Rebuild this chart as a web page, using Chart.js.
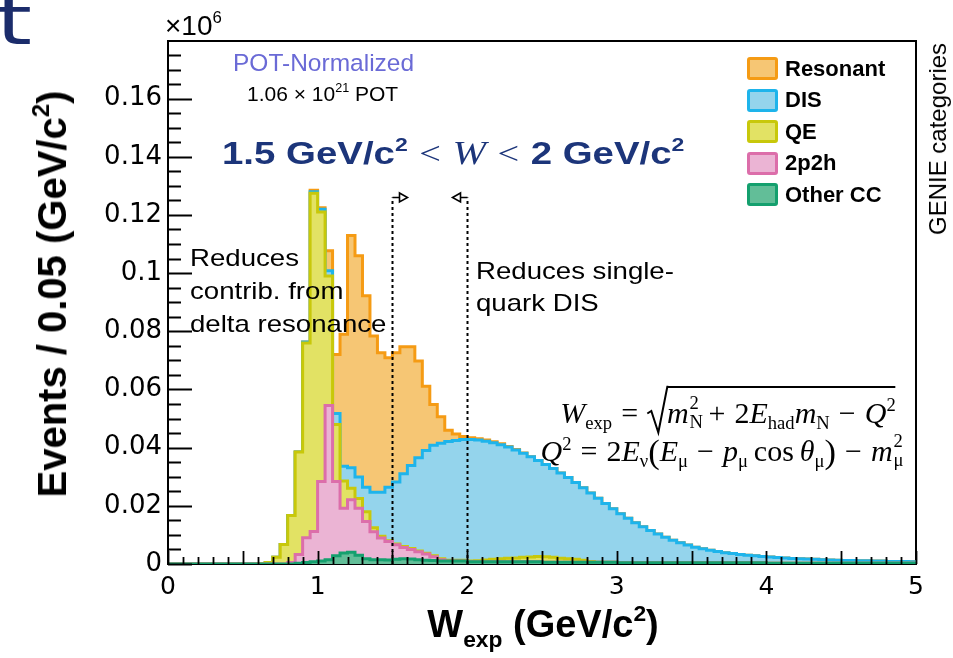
<!DOCTYPE html>
<html>
<head>
<meta charset="utf-8">
<script src="https://cdn.jsdelivr.net/npm/chart.js@4.4.1/dist/chart.umd.min.js"></script>
<style>
  html, body { margin: 0; padding: 0; background: #fff; }
  #wrap { position: relative; width: 953px; height: 658px; overflow: hidden; font-family: 'Liberation Sans', Arial, sans-serif; }
  #wrap canvas { position: absolute; left: 0; top: 0; }
  .lbl { position: absolute; white-space: nowrap; line-height: 1; color: #000; }
  .lbl sup { font-size: 0.6em; vertical-align: 0.7em; line-height: 0; }
  .math { font-family: 'Liberation Serif', 'DejaVu Serif', serif; font-size: 30px; }
  .math i { font-style: italic; }
  .math .s { font-size: 0.62em; vertical-align: -0.32em; line-height: 0; }
  .math .p { font-size: 0.62em; vertical-align: 0.62em; line-height: 0; }
  .math .op { margin: 0 0.3em; }
  .math .ss { display: inline-block; position: relative; width: 0.36em; height: 0; }
  .math .ss .u, .math .ss .d { position: absolute; left: 0.04em; font-size: 0.62em; line-height: 1; }
  .math .ss .u { bottom: 0.55em; }
  .math .ss .d { top: -0.55em; }
  .math .big { font-size: 1.15em; vertical-align: -0.05em; }
  .rt { display: inline-block; position: relative; padding-left: 20px; }
  .rt svg { position: absolute; left: 0; top: 0; width: 21px; height: 100%; overflow: visible; }
  .rb { display: inline-block; border-top: 2px solid #000; padding-top: 8px; line-height: 1.1; }
  #legend { white-space: nowrap; }
  #legend .row { position: absolute; left: 0; height: 23px; display: flex; align-items: center; white-space: nowrap; }
  #legend .box { box-sizing: border-box; width: 31px; height: 23px; border: 3px solid; border-radius: 3px; margin-right: 7px; flex: none; }
  #legend .txt { font-weight: bold; font-size: 22px; white-space: nowrap; }
</style>
</head>
<body>
<div id="wrap">
  <canvas id="chart"></canvas>

  <div class="lbl" id="slideT" style="left:-4px; top:-13px; font-family:'DejaVu Sans',sans-serif; font-size:68px; color:#1b2c6b; transform:scaleX(1.35); transform-origin:left top;">t</div>
  <div class="lbl" style="left:165px; top:12px; font-size:28px;">&times;10<sup>6</sup></div>
  <div class="lbl" style="left:233px; top:51px; font-size:24.5px; color:#6a6ad6;">POT-Normalized</div>
  <div class="lbl" style="left:247px; top:83px; font-size:21px;">1.06 &times; 10<sup>21</sup> POT</div>
  <div class="lbl" id="head" style="left:222px; top:136px; font-size:32px; color:#1c357a; transform:scaleX(1.2); transform-origin:left top;">
    <b>1.5 GeV/c<sup>2</sup></b><span style="font-family:'Liberation Serif',serif; margin:0 0.3em;">&lt;</span><i style="font-family:'Liberation Serif',serif; font-size:1.05em;">W</i><span style="font-family:'Liberation Serif',serif; margin:0 0.3em;">&lt;</span><b>2 GeV/c<sup>2</sup></b>
  </div>

  <div class="lbl" style="left:190px; top:241px; font-size:24px; line-height:33px; transform:scaleX(1.15); transform-origin:left top;">Reduces<br>contrib. from<br>delta resonance</div>
  <div class="lbl" style="left:476px; top:255px; font-size:24px; line-height:32px; transform:scaleX(1.15); transform-origin:left top;">Reduces single-<br>quark DIS</div>

  <div class="lbl math" id="f1" style="left:728px; top:386px; transform:translateX(-50%);"><i>W</i><span class="s">exp</span><span class="op">=</span><span class="rt"><svg viewBox="0 0 21 50" preserveAspectRatio="none"><polyline points="0,32 4,29 11,54 20,1 21,1" fill="none" stroke="#000" stroke-width="2" vector-effect="non-scaling-stroke"/></svg><span class="rb"><i>m</i><span class="ss"><span class="u">2</span><span class="d">N</span></span><span class="op">+</span>2<i>E</i><span class="s">had</span><i>m</i><span class="s">N</span><span class="op">&minus;</span><i>Q</i><span class="p">2</span></span></span></div>
  <div class="lbl math" id="f2" style="left:722px; top:434px; transform:translateX(-50%);"><i>Q</i><span class="p">2</span><span class="op">=</span>2<i>E</i><span class="s">&nu;</span><span class="big">(</span><i>E</i><span class="s">&mu;</span><span class="op">&minus;</span><i>p</i><span class="s">&mu;</span>&thinsp;cos&thinsp;<i>&theta;</i><span class="s">&mu;</span><span class="big">)</span><span class="op">&minus;</span><i>m</i><span class="ss"><span class="u">2</span><span class="d">&mu;</span></span></div>

  <div class="lbl" id="ytitle" style="left:52px; top:294px; font-size:40px; font-weight:bold; transform:translate(-50%,-50%) rotate(-90deg);">Events / 0.05 (GeV/c<sup>2</sup>)</div>
  <div class="lbl" id="xtitle" style="left:543px; top:605px; font-size:38px; font-weight:bold; transform:translateX(-50%);">W<span style="font-size:0.6em; vertical-align:-0.45em; line-height:0;">exp</span> (GeV/c<sup>2</sup>)</div>
  <div class="lbl" style="left:938px; top:139px; font-size:24px; transform:translate(-50%,-50%) rotate(-90deg);">GENIE categories</div>

  <div id="legend" style="position:absolute; left:747px; top:57px;"></div>
</div>

<script>
// W_exp histogram, 100 bins of 0.05 GeV/c^2 from 0 to 5, values in units of 10^6 events
const binWidth = 0.05;
const wMax = 5;

const categories = ['Other CC', '2p2h', 'QE', 'DIS', 'Resonant'];   // stack order, bottom first

const otherCC = [
  0, 0, 0, 0, 0, 0, 0, 0, 0, 0,
  0, 0, 0, 0, 0, 0, 0, 0.0003, 0.0005, 0.0008,
  0.001, 0.0015, 0.0028, 0.0038, 0.004, 0.003, 0.0018, 0.0015, 0.0015, 0.0014,
  0.0016, 0.0018, 0.0017, 0.0015, 0.0013, 0.0012, 0.001, 0.001, 0.001, 0.001,
  0.0008, 0.0008, 0.0008, 0.0008, 0.0008, 0.0008, 0.0008, 0.0008, 0.0008, 0.0008,
  0.0006, 0.0006, 0.0006, 0.0006, 0.0006, 0.0006, 0.0006, 0.0006, 0.0006, 0.0006,
  0.0004, 0.0004, 0.0004, 0.0004, 0.0004, 0.0004, 0.0004, 0.0004, 0.0004, 0.0004,
  0.0004, 0.0004, 0.0004, 0.0004, 0.0004, 0.0004, 0.0004, 0.0004, 0.0004, 0.0004,
  0.0003, 0.0003, 0.0003, 0.0003, 0.0003, 0.0003, 0.0003, 0.0003, 0.0003, 0.0003,
  0.0003, 0.0003, 0.0003, 0.0003, 0.0003, 0.0003, 0.0003, 0.0003, 0.0003, 0.0003
];
const twoP2h = [
  0, 0, 0, 0, 0, 0, 0, 0, 0, 0,
  0, 0, 0, 0, 0, 0, 0.0005, 0.003, 0.0085, 0.0104,
  0.0274, 0.053, 0.0256, 0.0154, 0.0181, 0.0162, 0.0128, 0.0096, 0.0074, 0.0063,
  0.005, 0.0039, 0.0033, 0.0027, 0.0021, 0.0013, 0.0005, 0, 0, 0,
  0, 0, 0, 0, 0, 0, 0, 0, 0, 0,
  0, 0, 0, 0, 0, 0, 0, 0, 0, 0,
  0, 0, 0, 0, 0, 0, 0, 0, 0, 0,
  0, 0, 0, 0, 0, 0, 0, 0, 0, 0,
  0, 0, 0, 0, 0, 0, 0, 0, 0, 0,
  0, 0, 0, 0, 0, 0, 0, 0, 0, 0
];
const qe = [
  0, 0, 0, 0, 0, 0, 0, 0, 0, 0,
  0, 0, 0.0002, 0.0005, 0.0023, 0.0067, 0.0162, 0.0352, 0.067, 0.1163,
  0.0926, 0.0445, 0.0196, 0.0093, 0.0039, 0.0033, 0.0034, 0.0014, 0.0006, 0.0003,
  0.0003, 0.0003, 0.0003, 0.0003, 0.0003, 0.0003, 0.0003, 0.0003, 0.0003, 0.0003,
  0.0002, 0.0003, 0.0006, 0.0008, 0.001, 0.0012, 0.0013, 0.0015, 0.0016, 0.0018,
  0.0019, 0.0017, 0.0014, 0.0012, 0.001, 0.0007, 0.0003, 0, 0, 0,
  0, 0, 0, 0, 0, 0, 0, 0, 0, 0,
  0, 0, 0, 0, 0, 0, 0, 0, 0, 0,
  0, 0, 0, 0, 0, 0, 0, 0, 0, 0,
  0, 0, 0, 0, 0, 0, 0, 0, 0, 0
];
const dis = [
  0, 0, 0, 0, 0, 0, 0, 0, 0, 0,
  0, 0, 0, 0, 0, 0, 0, 0, 0.0003, 0.0005,
  0.001, 0.0018, 0.0037, 0.0051, 0.0071, 0.0074, 0.0084, 0.0122, 0.0152, 0.0184,
  0.0213, 0.025, 0.0286, 0.032, 0.0353, 0.038, 0.0397, 0.0408, 0.0412, 0.0415,
  0.0418, 0.0415, 0.0408, 0.0401, 0.0392, 0.0382, 0.0371, 0.0358, 0.0345, 0.033,
  0.0317, 0.0305, 0.0293, 0.0279, 0.0264, 0.0249, 0.0235, 0.022, 0.0202, 0.0184,
  0.0169, 0.0153, 0.0138, 0.0124, 0.0111, 0.0099, 0.0088, 0.0078, 0.0069, 0.0061,
  0.0054, 0.0048, 0.0043, 0.0039, 0.0035, 0.0032, 0.0029, 0.0026, 0.0024, 0.0022,
  0.0021, 0.0019, 0.0018, 0.0016, 0.0015, 0.0014, 0.0013, 0.0012, 0.0011, 0.001,
  0.0009, 0.0009, 0.0008, 0.0008, 0.0007, 0.0007, 0.0006, 0.0006, 0.0006, 0.0005
];
const resonant = [
  0, 0, 0, 0, 0, 0, 0, 0, 0, 0,
  0, 0, 0, 0, 0, 0, 0, 0, 0, 0.0005,
  0.0005, 0.0069, 0.0203, 0.0454, 0.0798, 0.0761, 0.0658, 0.0537, 0.0479, 0.0445,
  0.0444, 0.0437, 0.0408, 0.0333, 0.0221, 0.014, 0.0091, 0.0039, 0.0022, 0.001,
  0.0006, 0.0005, 0.0004, 0.0003, 0.0003, 0.0002, 0.0002, 0.0001, 0, 0,
  0, 0, 0, 0, 0, 0, 0, 0, 0, 0,
  0, 0, 0, 0, 0, 0, 0, 0, 0, 0,
  0, 0, 0, 0, 0, 0, 0, 0, 0, 0,
  0, 0, 0, 0, 0, 0, 0, 0, 0, 0,
  0, 0, 0, 0, 0, 0, 0, 0, 0, 0
];
const seriesValues = [otherCC, twoP2h, qe, dis, resonant];

const lineColors = ['#14a06e', '#dc6eaa', '#c8c80a', '#1eb4eb', '#f59b14'];
const fillColors = ['#62be98', '#ebb4d4', '#e2e264', '#94d4ec', '#f6c674'];

const xTickValues = [0, 1, 2, 3, 4, 5];
const yTickValues = [0, 0.02, 0.04, 0.06, 0.08, 0.1, 0.12, 0.14, 0.16];
const yMax = 0.1798;

const cutValues = [1.5, 2.0];    // W cut lines
const cutArrowLevel = 0.126;

// bin low edges
const wEdges = otherCC.map((_, i) => +(i * binWidth).toFixed(2));

function toSteps(vals) {
  var pts = vals.map((v, i) => ({ x: wEdges[i], y: v }));
  pts.push({ x: wMax, y: vals[vals.length - 1] });
  return pts;
}

var datasets = categories.map(function(name, k) {
  return {
    label: name,
    data: toSteps(seriesValues[k]),
    stepped: 'before',
    borderColor: lineColors[k],
    backgroundColor: fillColors[k],
    borderWidth: 3,
    pointRadius: 0,
    fill: k === 0 ? 'origin' : '-1'
  };
});

// legend, top entry = top of stack
var legend = document.getElementById('legend');
for (var k = categories.length - 1, row = 0; k >= 0; k--, row++) {
  var r = document.createElement('div');
  r.className = 'row';
  r.style.top = (row * 31.6) + 'px';
  r.innerHTML = '<span class="box" style="border-color:' + lineColors[k] + ';background:' + fillColors[k] + '"></span>' +
                '<span class="txt">' + categories[k] + '</span>';
  legend.appendChild(r);
}

var rootAxes = {
  id: 'rootAxes',
  beforeDatasetsDraw: function(chart) {
    var a = chart.chartArea, ctx = chart.ctx;
    ctx.save();
    ctx.strokeStyle = '#000';
    ctx.lineWidth = 2;
    ctx.strokeRect(a.left, a.top, a.right - a.left, a.bottom - a.top);
    ctx.restore();
  },
  afterDatasetsDraw: function(chart) {
    var a = chart.chartArea, ctx = chart.ctx;
    var xs = chart.scales.x, ys = chart.scales.y;
    ctx.save();
    ctx.strokeStyle = '#000';
    ctx.lineWidth = 1.8;
    ctx.beginPath();
    // y ticks: major every 0.02, minor every 0.005
    for (var i = 0; i * 0.005 <= yMax; i++) {
      var y = Math.round(ys.getPixelForValue(i * 0.005)) + 0.5;
      var len = (i % 4 === 0) ? 24 : 13;
      ctx.moveTo(a.left, y);
      ctx.lineTo(a.left + len, y);
    }
    // x ticks: every 0.1, longer at 0.5
    for (var j = 0; j <= 50; j++) {
      var x = Math.round(xs.getPixelForValue(j * 0.1)) + 0.5;
      var l = (j % 5 === 0) ? 13 : 7;
      ctx.moveTo(x, a.bottom);
      ctx.lineTo(x, a.bottom - l);
    }
    ctx.stroke();

    // cut lines with open arrow heads
    var yA = ys.getPixelForValue(cutArrowLevel);
    cutValues.forEach(function(c, n) {
      var x = Math.round(xs.getPixelForValue(c)) + 0.5;
      var dir = n === 0 ? 1 : -1;
      ctx.lineWidth = 2;
      ctx.setLineDash([3, 3]);
      ctx.beginPath();
      ctx.moveTo(x, a.bottom);
      ctx.lineTo(x, yA);
      ctx.stroke();
      ctx.setLineDash([]);
      ctx.lineWidth = 1.6;
      ctx.beginPath();
      ctx.moveTo(x, yA);
      ctx.lineTo(x + dir * 7, yA);
      ctx.moveTo(x + dir * 7, yA - 4.5);
      ctx.lineTo(x + dir * 15, yA);
      ctx.lineTo(x + dir * 7, yA + 4.5);
      ctx.closePath();
      ctx.stroke();
    });
    ctx.restore();
  }
};

Chart.defaults.font.family = "'DejaVu Sans', sans-serif";
Chart.defaults.color = '#000';

var myChart = new Chart(document.getElementById('chart').getContext('2d'), {
  type: 'line',
  data: { datasets: datasets },
  plugins: [rootAxes],
  options: {
    responsive: true,
    maintainAspectRatio: false,
    devicePixelRatio: 1,
    animation: false,
    events: [],
    layout: { padding: { top: 41, right: 37, left: 0, bottom: 0 } },
    plugins: { legend: { display: false }, tooltip: { enabled: false } },
    scales: {
      x: {
        type: 'linear', min: 0, max: wMax,
        grid: { display: false, drawTicks: false },
        border: { display: false },
        afterBuildTicks: function(s) { s.ticks = xTickValues.map(v => ({ value: v })); },
        afterFit: function(s) { s.height = 94; },
        ticks: { font: { size: 25 }, padding: 8, maxRotation: 0, callback: v => String(v) }
      },
      y: {
        stacked: true, min: 0, max: yMax,
        grid: { display: false, drawTicks: false },
        border: { display: false },
        afterBuildTicks: function(s) { s.ticks = yTickValues.map(v => ({ value: v })); },
        afterFit: function(s) { s.width = 168; },
        ticks: { font: { size: 26 }, padding: 6, callback: v => String(+v.toFixed(3)) }
      }
    }
  }
});
</script>
</body>
</html>
